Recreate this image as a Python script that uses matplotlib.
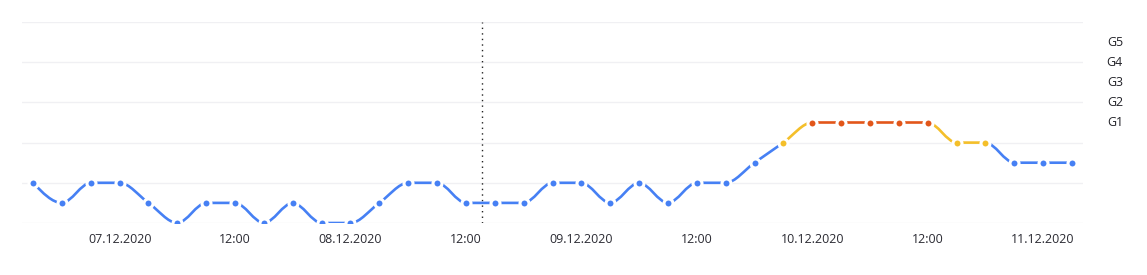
import numpy as np
import matplotlib
matplotlib.use("Agg")
import matplotlib.pyplot as plt
import matplotlib.dates as mdates
from matplotlib.path import Path
from matplotlib.patches import PathPatch
from datetime import datetime, timedelta

# --- data: 3-hourly index, 06.12.2020 15:00 .. 11.12.2020 03:00
start = datetime(2020, 12, 6, 15, 0)
kp = [2, 1, 2, 2, 1, 0, 1, 1, 0, 1, 0, 0, 1, 2, 2, 1, 1, 1, 2, 2,
      1, 2, 1, 2, 2, 3, 4, 5, 5, 5, 5, 5, 4, 4, 3, 3, 3]
times = [start + timedelta(hours=3 * i) for i in range(len(kp))]
now_time = datetime(2020, 12, 8, 13, 40)

g_levels = [5, 6, 7, 8, 9]
g_labels = ["G1", "G2", "G3", "G4", "G5"]
tick_times = [datetime(2020, 12, 7, 0), datetime(2020, 12, 7, 12),
              datetime(2020, 12, 8, 0), datetime(2020, 12, 8, 12),
              datetime(2020, 12, 9, 0), datetime(2020, 12, 9, 12),
              datetime(2020, 12, 10, 0), datetime(2020, 12, 10, 12),
              datetime(2020, 12, 11, 0)]
tick_labels = ["07.12.2020", "12:00", "08.12.2020", "12:00", "09.12.2020",
               "12:00", "10.12.2020", "12:00", "11.12.2020"]

BLUE = "#4680f4"
YELLOW = "#f4bf2a"
RED = "#e2561a"


def level_color(v):
    if v >= 5:
        return RED
    if v >= 4:
        return YELLOW
    return BLUE


plt.rcParams['font.family'] = ['Open Sans', 'DejaVu Sans']

fig = plt.figure(figsize=(11.47, 2.75), dpi=100)
ax = fig.add_axes([22 / 1147, 1 - 223 / 275, (1083 - 22) / 1147, (223 - 22) / 275])

x = mdates.date2num(times)
y = np.array(kp, dtype=float)

# monotone cubic tangents (like d3 curveMonotoneX)
n = len(x)
h = np.diff(x)
s = np.diff(y) / h
t = np.zeros(n)
for i in range(1, n - 1):
    p = (s[i - 1] * h[i] + s[i] * h[i - 1]) / (h[i - 1] + h[i])
    t[i] = (np.sign(s[i - 1]) + np.sign(s[i])) * min(abs(s[i - 1]), abs(s[i]), 0.5 * abs(p))
t[0] = (3 * s[0] - t[1]) / 2
t[-1] = (3 * s[-1] - t[-2]) / 2

for i in range(n - 1):
    dx = h[i] / 3
    verts = [(x[i], y[i]), (x[i] + dx, y[i] + dx * t[i]),
             (x[i + 1] - dx, y[i + 1] - dx * t[i + 1]), (x[i + 1], y[i + 1])]
    path = Path(verts, [Path.MOVETO, Path.CURVE4, Path.CURVE4, Path.CURVE4])
    c = level_color(min(y[i], y[i + 1]))
    ax.add_patch(PathPatch(path, facecolor="none", edgecolor=c, lw=1.9,
                           capstyle="butt", zorder=3))

for xi, yi in zip(x, y):
    ax.plot(xi, yi, "o", color=level_color(yi), ms=6.5, mec="white", mew=2.2, zorder=4)

# "now" marker
ax.axvline(mdates.date2num(now_time), color="#222222", lw=1.0,
           linestyle=(0, (1, 3)), zorder=2)

pad = timedelta(hours=1, minutes=9)
ax.set_xlim(mdates.date2num(times[0] - pad), mdates.date2num(times[-1] + pad))
ax.set_ylim(0, 10)

ax.set_yticks([0, 2, 4, 6, 8, 10])
ax.yaxis.grid(True, color="#f0f0f3", lw=1)
ax.tick_params(axis="y", left=False, labelleft=False)
ax.set_xticks(mdates.date2num(tick_times))
ax.set_xticklabels(tick_labels, fontsize=9, color="#2b2b33")
ax.tick_params(axis="x", length=0, pad=7)
for sp in ax.spines.values():
    sp.set_visible(False)

for lv, lb in zip(g_levels, g_labels):
    ax.text(1.03, lv, lb, transform=ax.get_yaxis_transform(), ha="center",
            va="center", fontsize=9, color="#222228")

fig.savefig("out.png", dpi=100)
